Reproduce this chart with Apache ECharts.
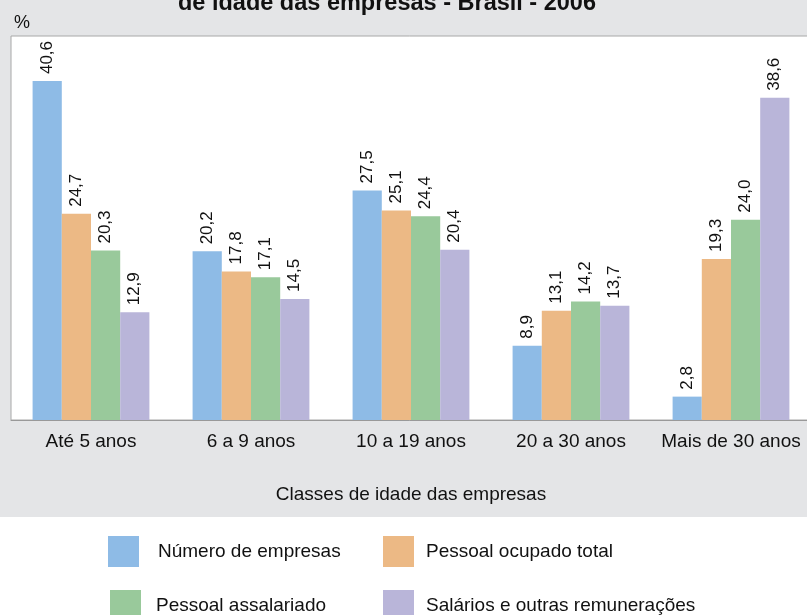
<!DOCTYPE html>
<html>
<head>
<meta charset="utf-8">
<script src="https://cdn.jsdelivr.net/npm/echarts@6/dist/echarts.min.js"></script>
<style>
  html, body { margin: 0; padding: 0; background: #fff; }
  #main { width: 807px; height: 615px; }
</style>
</head>
<body>
<div id="main"></div>
<script>
// classes de idade
var categorias = ['Até 5 anos', '6 a 9 anos', '10 a 19 anos', '20 a 30 anos', 'Mais de 30 anos'];
// % por classe
var numeroEmpresas = [40.6, 20.2, 27.5, 8.9, 2.8];
var pessoalOcupado = [24.7, 17.8, 25.1, 13.1, 19.3];
var pessoalAssalariado = [20.3, 17.1, 24.4, 14.2, 24.0];
var salarios = [12.9, 14.5, 20.4, 13.7, 38.6];

var nomes = ['Número de empresas', 'Pessoal ocupado total', 'Pessoal assalariado', 'Salários e outras remunerações'];
var cores = ['#8ebbe6', '#ecb985', '#99c99b', '#b9b5d9'];

var chart = echarts.init(document.getElementById('main'), null, { renderer: 'canvas' });

var labelFont = 'Liberation Sans, Arial, sans-serif';

function serie(nome, dados, cor) {
  return {
    name: nome,
    type: 'bar',
    data: dados,
    barGap: 0,
    barCategoryGap: '27%',
    itemStyle: { color: cor },
    label: {
      show: true,
      position: 'top',
      rotate: 90,
      align: 'left',
      verticalAlign: 'middle',
      distance: 7,
      fontFamily: labelFont,
      fontSize: 17,
      color: '#111',
      formatter: function (p) { return p.value.toFixed(1).replace('.', ','); }
    }
  };
}

function legenda(nome, left, top, gap) {
  return {
    data: [nome],
    left: left,
    top: top,
    padding: 0,
    itemWidth: 31,
    itemHeight: 31,
    icon: 'rect',
    selectedMode: false,
    textStyle: {
      fontFamily: labelFont,
      fontSize: 19,
      color: '#111',
      padding: [0, 0, 0, gap]
    }
  };
}

var option = {
  animation: false,
  backgroundColor: '#fff',
  graphic: [
    {
      type: 'rect',
      z: -10,
      silent: true,
      shape: { x: 0, y: 0, width: 807, height: 517 },
      style: { fill: '#e4e5e7' }
    }
  ],
  title: [
    {
      text: 'de idade das empresas - Brasil - 2006',
      left: 382,
      textAlign: 'center',
      top: -13,
      textStyle: { fontFamily: labelFont, fontSize: 23.5, fontWeight: 'bold', color: '#111' }
    },
    {
      text: '%',
      left: 9,
      top: 9,
      textStyle: { fontFamily: labelFont, fontSize: 18, fontWeight: 'normal', color: '#111' }
    }
  ],
  legend: [
    legenda(nomes[0], 108, 536, 14),
    legenda(nomes[1], 383, 536, 7),
    legenda(nomes[2], 110, 590, 10),
    legenda(nomes[3], 383, 590, 7)
  ],
  grid: {
    left: 11,
    right: -4,
    top: 36,
    bottom: 195,
    outerBoundsMode: 'none',
    show: true,
    backgroundColor: '#fff',
    borderColor: '#a8a8a8',
    borderWidth: 1
  },
  xAxis: {
    type: 'category',
    data: categorias,
    name: 'Classes de idade das empresas',
    nameLocation: 'middle',
    nameGap: 65,
    nameTextStyle: { fontFamily: labelFont, fontSize: 19, color: '#111' },
    axisLine: { lineStyle: { color: '#999', width: 1 } },
    axisTick: { length: 5, lineStyle: { color: '#999' } },
    axisLabel: { interval: 0, margin: 12, fontFamily: labelFont, fontSize: 19, color: '#111' }
  },
  yAxis: {
    type: 'value',
    min: 0,
    max: 46,
    show: false,
    splitLine: { show: false }
  },
  series: [
    serie(nomes[0], numeroEmpresas, cores[0]),
    serie(nomes[1], pessoalOcupado, cores[1]),
    serie(nomes[2], pessoalAssalariado, cores[2]),
    serie(nomes[3], salarios, cores[3])
  ]
};

chart.setOption(option);
</script>
</body>
</html>
